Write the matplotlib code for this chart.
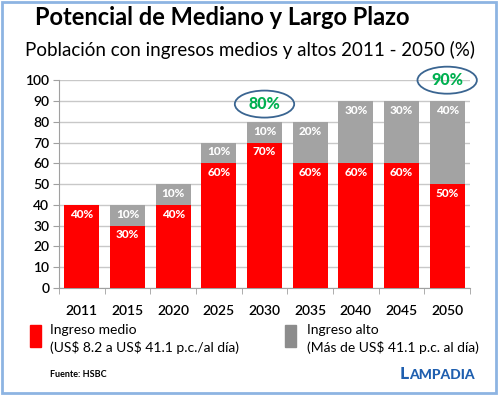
import matplotlib
matplotlib.use("Agg")
import matplotlib.pyplot as plt
from matplotlib.patches import Ellipse, Rectangle
import numpy as np

plt.rcParams['font.family'] = ['Lato', 'DejaVu Sans']

years = ['2011', '2015', '2020', '2025', '2030', '2035', '2040', '2045', '2050']
medio = [40, 30, 40, 60, 70, 60, 60, 60, 50]
alto = [0, 10, 10, 10, 10, 20, 30, 30, 40]
highlights = {'2030': '80%', '2050': '90%'}

RED = '#FF0000'
GRAY = '#A3A3A3'

fig = plt.figure(figsize=(5, 3.95), dpi=100)
fig.patch.set_facecolor('white')
fig.patches.append(Rectangle((0.004, 0.006), 0.988, 0.988, transform=fig.transFigure,
                             fill=False, edgecolor='#8DB4E2', linewidth=2))

ax = fig.add_axes([0.118, 0.271, 0.822, 0.526])
x = np.arange(len(years))
w = 0.77
ax.bar(x, medio, w, color=RED, zorder=3)
ax.bar(x, alto, w, bottom=medio, color=GRAY, zorder=3)

for i in range(len(years)):
    ax.text(x[i], medio[i] - 4.5, f'{medio[i]}%', ha='center', va='center',
            color='white', fontsize=8.5, fontweight='black', zorder=4)
    if alto[i]:
        top = medio[i] + alto[i]
        ax.text(x[i], top - 4.5, f'{alto[i]}%', ha='center', va='center',
                color='white', fontsize=8.5, fontweight='black', zorder=4)

for yr, txt in highlights.items():
    i = years.index(yr)
    total = medio[i] + alto[i]
    yc = total + 8.5 if total < 90 else total + 10
    ax.add_patch(Ellipse((x[i], yc), 1.3, 13, fill=False, edgecolor='#3A6591',
                         linewidth=1.3, zorder=5, clip_on=False))
    ax.text(x[i], yc, txt, ha='center', va='center', color='#00B050',
            fontsize=11.5, fontweight='black', zorder=6, clip_on=False)

ax.set_xlim(-0.5, len(years) - 0.5)
ax.set_ylim(0, 100)
ax.set_yticks(range(0, 101, 10))
ax.set_xticks(x)
ax.set_xticklabels(years)
ax.set_xticks(np.arange(-0.5, len(years), 1), minor=True)
ax.tick_params(axis='x', which='major', length=0, pad=12, labelsize=10)
ax.tick_params(axis='x', which='minor', length=4, color='#A0A0A0')
ax.tick_params(axis='y', length=4, color='#A0A0A0', labelsize=10, pad=3)
for lab in ax.get_xticklabels() + ax.get_yticklabels():
    lab.set_fontweight('semibold')
ax.grid(axis='y', color='#C8C8C8', linewidth=1, zorder=0)
for s in ['top', 'right']:
    ax.spines[s].set_visible(False)
for s in ['left', 'bottom']:
    ax.spines[s].set_color('#A0A0A0')

fig.text(0.07, 0.955, 'Potencial de Mediano y Largo Plazo', fontsize=17,
         fontweight='bold', va='center')
fig.text(0.05, 0.873, 'Población con ingresos medios y altos 2011 - 2050 (%)',
         fontsize=13.5, va='center')

# legend
fig.patches.append(Rectangle((0.06, 0.122), 0.022, 0.055, transform=fig.transFigure,
                             color=RED))
fig.text(0.1, 0.165, 'Ingreso medio', fontsize=10, va='center')
fig.text(0.1, 0.12, '(US$ 8.2 a US$ 41.1 p.c./al día)', fontsize=10, va='center',
         parse_math=False)
fig.patches.append(Rectangle((0.57, 0.122), 0.022, 0.055, transform=fig.transFigure,
                             color='#8C8C8C'))
fig.text(0.614, 0.165, 'Ingreso alto', fontsize=10, va='center')
fig.text(0.614, 0.12, '(Más de US$ 41.1 p.c. al día)', fontsize=10, va='center',
         parse_math=False)

fig.text(0.1, 0.053, 'Fuente: HSBC', fontsize=6.5, fontweight='bold', va='center')
# small-caps brand mark
lt = fig.text(0.8, 0.04, 'L', fontsize=12.5, fontweight='black', color='#1F5FAF',
              ha='left', va='baseline')
fig.canvas.draw()
bb = lt.get_window_extent().transformed(fig.transFigure.inverted())
fig.text(bb.x1, 0.04, 'AMPADIA', fontsize=10, fontweight='black', color='#1F5FAF',
         ha='left', va='baseline')

fig.savefig('out.png', dpi=100)
